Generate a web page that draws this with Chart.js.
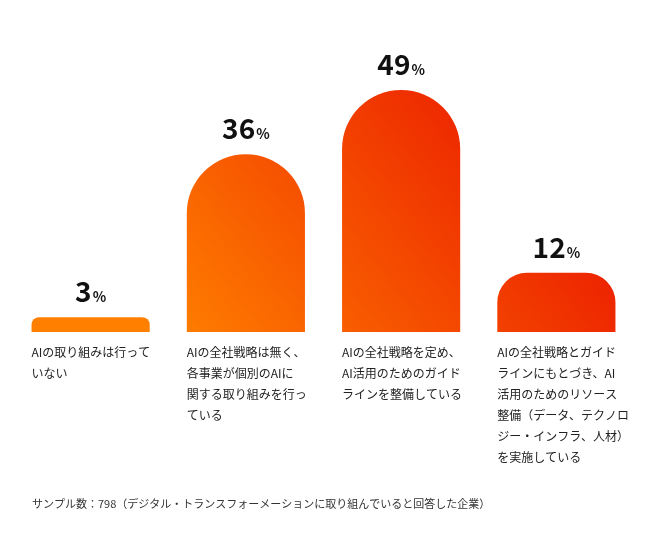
<!DOCTYPE html>
<html><head><meta charset="utf-8">
<script src="https://cdn.jsdelivr.net/npm/chart.js@4"></script>
<style>body{margin:0;background:#fff}#w{width:650px;height:545px}</style>
</head><body><div id="w"><canvas id="c"></canvas></div>
<script>
const categories=[
 ["AIの取り組みは行って","いない"],
 ["AIの全社戦略は無く、","各事業が個別のAIに","関する取り組みを行っ","ている"],
 ["AIの全社戦略を定め、","AI活用のためのガイド","ラインを整備している"],
 ["AIの全社戦略とガイド","ラインにもとづき、AI","活用のためのリソース","整備（データ、テクノロ","ジー・インフラ、人材）","を実施している"]
];
const values=[3,36,49,12];
const note="サンプル数：798（デジタル・トランスフォーメーションに取り組んでいると回答した企業）";
const FONT='"Noto Sans CJK JP","Noto Sans",sans-serif';
const labelsPlugin={id:'lbl',afterDatasetsDraw(chart){
 const ctx=chart.ctx,meta=chart.getDatasetMeta(0);
 ctx.save();ctx.fillStyle='#111';
 meta.data.forEach((b,i)=>{
  const num=String(values[i]);
  ctx.font='bold 28px '+FONT;const w1=ctx.measureText(num).width;
  ctx.font='bold 14px '+FONT;const w2=ctx.measureText('%').width;
  const x0=b.x-(w1+w2+1)/2,y=b.y-15;
  ctx.textBaseline='alphabetic';ctx.textAlign='left';
  ctx.font='bold 28px '+FONT;ctx.fillText(num,x0,y);
  ctx.font='bold 14px '+FONT;ctx.fillText('%',x0+w1+1,y);
  ctx.font='12px '+FONT;ctx.fillStyle='#222';ctx.textBaseline='top';
  categories[i].forEach((l,k)=>ctx.fillText(l,b.x-b.width/2,346+k*21));
  ctx.fillStyle='#111';
 });
 ctx.font='11px '+FONT;ctx.fillStyle='#333';ctx.textBaseline='middle';ctx.textAlign='left';
 ctx.fillText(note,32,504);
 ctx.restore();
}};
new Chart(document.getElementById('c'),{type:'bar',
 data:{labels:categories.map(c=>c.join('')),datasets:[{data:values,
  backgroundColor(c){const a=c.chart.chartArea;if(!a)return '#f60';
   const g=c.chart.ctx.createLinearGradient(a.left+150,a.bottom,a.right-150,a.top);
   g.addColorStop(0,'#ff8000');g.addColorStop(1,'#ec2000');return g;},
  borderRadius:{topLeft:59,topRight:59,bottomLeft:0,bottomRight:0},borderSkipped:'bottom',
  categoryPercentage:1,barPercentage:0.761}]},
 options:{responsive:true,maintainAspectRatio:false,animation:false,
  layout:{padding:{left:13,right:16,top:85,bottom:213}},
  plugins:{legend:{display:false},tooltip:{enabled:false}},
  scales:{x:{display:false},y:{display:false,min:0,max:50}}},
 plugins:[labelsPlugin]});
</script></body></html>
